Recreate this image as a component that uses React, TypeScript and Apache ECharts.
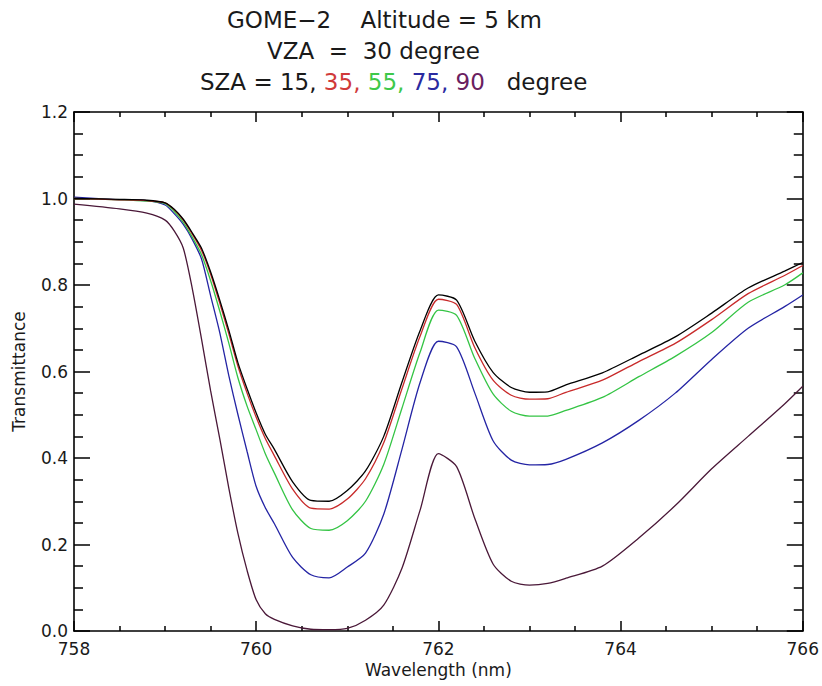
import React, { useEffect, useRef } from "react";
import * as echarts from "echarts";

const wavelengths = [
  758.0, 758.5, 758.8, 759.0, 759.1, 759.2, 759.3, 759.4, 759.5, 759.6, 759.7,
  759.8, 759.9, 760.0, 760.1, 760.2, 760.4, 760.6, 760.8, 761.0, 761.2, 761.4,
  761.6, 761.8, 762.0, 762.2, 762.4, 762.6, 762.8, 763.0, 763.2, 763.4, 763.8,
  764.2, 764.6, 765.0, 765.4, 765.8, 766.0,
];

const sza15 = [
  1.0, 0.998, 0.996, 0.99, 0.975, 0.952, 0.92, 0.885, 0.83, 0.765, 0.695,
  0.62, 0.56, 0.504, 0.455, 0.42, 0.345, 0.302, 0.3, 0.325, 0.37, 0.45,
  0.575, 0.695, 0.777, 0.765, 0.67, 0.598, 0.563, 0.552, 0.553, 0.569, 0.597,
  0.638, 0.68, 0.735, 0.793, 0.832, 0.852,
];

const sza35 = [
  1.0, 0.997, 0.995, 0.99, 0.974, 0.95, 0.917, 0.88, 0.825, 0.758, 0.687,
  0.612, 0.55, 0.494, 0.445, 0.405, 0.328, 0.284, 0.282, 0.305, 0.352, 0.435,
  0.56, 0.682, 0.767, 0.755, 0.655, 0.58, 0.545, 0.536, 0.537, 0.552, 0.58,
  0.623, 0.665, 0.72, 0.78, 0.822, 0.845,
];

const sza55 = [
  1.0, 0.997, 0.994, 0.988, 0.97, 0.945, 0.91, 0.87, 0.81, 0.74, 0.665,
  0.585, 0.52, 0.465, 0.41, 0.365, 0.28, 0.237, 0.233, 0.255, 0.3, 0.385,
  0.515, 0.645, 0.742, 0.73, 0.63, 0.548, 0.508, 0.497, 0.497, 0.51, 0.54,
  0.588, 0.635, 0.69, 0.76, 0.8, 0.828,
];

const sza75 = [
  1.003, 0.997, 0.995, 0.985, 0.965, 0.94, 0.905, 0.86, 0.775, 0.69, 0.59,
  0.5, 0.415, 0.334, 0.285, 0.248, 0.17, 0.13, 0.123, 0.148, 0.18, 0.27,
  0.42, 0.575, 0.67, 0.657, 0.55, 0.44, 0.395, 0.384, 0.385, 0.397, 0.435,
  0.487, 0.55, 0.628, 0.7, 0.75, 0.777,
];

const sza90 = [
  0.987, 0.976, 0.966, 0.95, 0.925, 0.885, 0.79, 0.675, 0.555, 0.445, 0.33,
  0.225, 0.14, 0.072, 0.04, 0.027, 0.012, 0.004, 0.003, 0.006, 0.025, 0.06,
  0.145, 0.28, 0.41, 0.38, 0.26, 0.155, 0.115, 0.106, 0.11, 0.122, 0.15,
  0.215, 0.29, 0.375, 0.45, 0.525, 0.566,
];

const seriesNames = ["15", "35", "55", "75", "90"];
const seriesValues = [sza15, sza35, sza55, sza75, sza90];
const seriesColors = ["#000000", "#c82a2a", "#34c444", "#2424a4", "#4a1838"];

const xTicks = [758, 760, 762, 764, 766];
const yTicks = [0.0, 0.2, 0.4, 0.6, 0.8, 1.0, 1.2];

const FONT = "DejaVu Sans";

export default function App() {
  const ref = useRef<HTMLDivElement>(null);

  useEffect(() => {
    if (!ref.current) return;
    const chart = echarts.init(ref.current, null, { renderer: "svg" });

    const axisLineStyle = { color: "#000", width: 1.6 };
    const tickStyle = { color: "#000", width: 1.5 };
    const baseX = {
      type: "value" as const,
      min: xTicks[0],
      max: xTicks[xTicks.length - 1],
      interval: 2,
      splitLine: { show: false },
      axisLine: { show: true, onZero: false, lineStyle: axisLineStyle },
      axisTick: { show: true, inside: true, length: 10, lineStyle: tickStyle },
      minorTick: { show: true, splitNumber: 4, length: 5, lineStyle: tickStyle },
    };
    const baseY = {
      type: "value" as const,
      min: yTicks[0],
      max: yTicks[yTicks.length - 1],
      interval: 0.2,
      splitLine: { show: false },
      axisLine: { show: true, onZero: false, lineStyle: axisLineStyle },
      axisTick: { show: true, inside: true, length: 16, lineStyle: tickStyle },
      minorTick: { show: true, splitNumber: 4, length: 9, lineStyle: tickStyle },
    };

    const titleStyle = {
      fontFamily: FONT,
      fontSize: 23,
      fontWeight: "normal" as const,
      color: "#1a1a1a",
      lineHeight: 26,
    };

    chart.setOption({
      animation: false,
      backgroundColor: "#ffffff",
      title: [
        { text: "GOME\u22122    Altitude = 5 km", left: 227, top: 7, padding: 0, textStyle: titleStyle },
        { text: "VZA  =  30 degree", left: 267, top: 38, padding: 0, textStyle: titleStyle },
        {
          text: "{k|SZA = 15, }{r|35, }{g|55, }{b|75, }{p|90}{k|   degree}",
          left: 200,
          top: 69,
          padding: 0,
          textStyle: {
            ...titleStyle,
            rich: {
              k: { ...titleStyle, color: "#1a1a1a" },
              r: { ...titleStyle, color: "#d03a3a" },
              g: { ...titleStyle, color: "#3ec84a" },
              b: { ...titleStyle, color: "#2a2aa0" },
              p: { ...titleStyle, color: "#6a2060" },
            },
          },
        },
      ],
      grid: { left: 74, right: 17, top: 112, bottom: 55, containLabel: false },
      xAxis: [
        {
          ...baseX,
          position: "bottom",
          name: "Wavelength (nm)",
          nameLocation: "middle",
          nameGap: 28,
          nameTextStyle: { fontFamily: FONT, fontSize: 17, color: "#1a1a1a" },
          axisLabel: {
            show: true,
            margin: 9,
            fontFamily: FONT,
            fontSize: 17,
            color: "#1a1a1a",
            formatter: (v: number) => String(v),
          },
        },
        { ...baseX, position: "top", axisLabel: { show: false } },
      ],
      yAxis: [
        {
          ...baseY,
          position: "left",
          name: "Transmittance",
          nameLocation: "middle",
          nameGap: 47,
          nameRotate: 90,
          nameTextStyle: { fontFamily: FONT, fontSize: 17, color: "#1a1a1a" },
          axisLabel: {
            show: true,
            margin: 6,
            fontFamily: FONT,
            fontSize: 17,
            color: "#1a1a1a",
            formatter: (v: number) => v.toFixed(1),
          },
        },
        { ...baseY, position: "right", axisLabel: { show: false } },
      ],
      series: seriesValues.map((vals, i) => ({
        name: seriesNames[i],
        type: "line",
        xAxisIndex: 0,
        yAxisIndex: 0,
        data: wavelengths.map((w, j) => [w, vals[j]]),
        showSymbol: false,
        symbol: "none",
        smooth: 0.25,
        lineStyle: { color: seriesColors[i], width: 1.3 },
        z: 10 - i,
      })),
    });

    return () => chart.dispose();
  }, []);

  return (
    <div
      ref={ref}
      style={{ position: "fixed", left: 0, top: 0, width: 822, height: 686, background: "#fff" }}
    />
  );
}
